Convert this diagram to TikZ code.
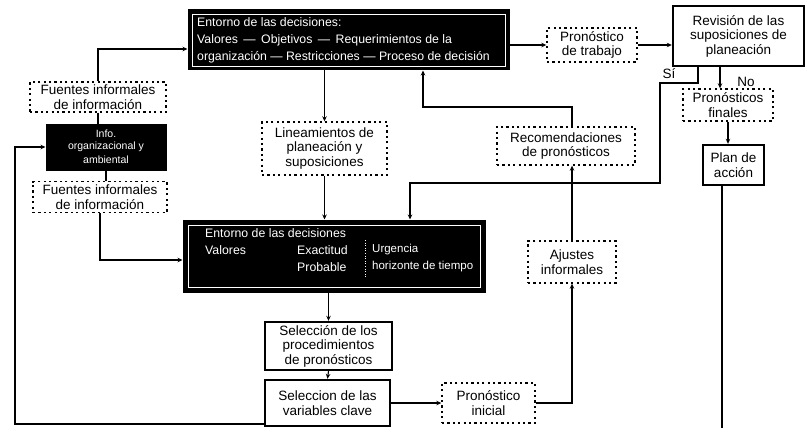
\documentclass[tikz,border=0pt]{standalone}
\usepackage{fontspec}
\setmainfont{Liberation Sans}
\usetikzlibrary{arrows.meta}
\begin{document}
\begin{tikzpicture}[x=1pt,y=-1pt,
  every node/.style={font=\fontsize{13.5}{14.5}\selectfont, align=center, inner sep=0pt},
  dbox/.style={draw, line width=1.4pt, dash pattern=on 2.2pt off 3.2pt},
  tbox/.style={draw, line width=2.4pt},
  bbox/.style={fill=black, draw=black, line width=1pt},
  wtxt/.style={text=white, font=\fontsize{12.3}{13}\selectfont, anchor=west},
  arr/.style={line width=1.1pt, -{Stealth[length=5pt,width=4.5pt]}},
  ln/.style={line width=1.1pt}]
\useasboundingbox (0,0) rectangle (806,428);
\fill[white] (0,0) rectangle (806,428);

% black boxes
\node[bbox, minimum width=321pt, minimum height=60pt] (T) at (348.5,40) {};
\draw[white, line width=0.6pt] (192,14) rectangle (505,66);
\node[wtxt] (t1) at (197,22) {Entorno de las decisiones:};
\node[wtxt] (t2) at (197,40) {Valores \,---\, Objetivos \,---\, Requerimientos de la};
\node[wtxt] (t3) at (197,57) {organización --- Restricciones --- Proceso de decisión};

\node[bbox, minimum width=120pt, minimum height=46pt] (L) at (106,147) {};
\node[text=white, font=\fontsize{10.5}{11}\selectfont] (l1) at (106,134) {Info.};
\node[text=white, font=\fontsize{10.5}{11}\selectfont] (l2) at (106,147) {organizacional y};
\node[text=white, font=\fontsize{10.5}{11}\selectfont] (l3) at (106,160) {ambiental};

\node[bbox, minimum width=302pt, minimum height=72pt] (B) at (334,256) {};
\draw[white, line width=0.6pt] (188,225) rectangle (480,287);
\node[wtxt] (b1) at (205,233) {Entorno de las decisiones};
\node[wtxt] (b2) at (205,250) {Valores};
\node[wtxt] (b3) at (297,250) {Exactitud};
\node[wtxt] (b4) at (297,267) {Probable};
\node[wtxt, font=\fontsize{11.5}{12}\selectfont] (b5) at (372,250) {Urgencia};
\node[wtxt, font=\fontsize{11.5}{12}\selectfont] (b6) at (372,267) {horizonte de tiempo};
\draw[white, line width=0.6pt, dotted] (365,240) -- (365,278);

% dashed boxes
\node[dbox, minimum width=136pt, minimum height=30pt] (F1) at (98,97) {Fuentes informales\\de información};
\node[dbox, minimum width=134pt, minimum height=31pt] (F2) at (100,197) {Fuentes informales\\de información};
\node[dbox, minimum width=125pt, minimum height=53pt] (Li) at (324.5,148.5) {Lineamientos de\\planeación y\\suposiciones};
\node[dbox, minimum width=138pt, minimum height=38pt] (R) at (566,146) {Recomendaciones\\de pronósticos};
\node[dbox, minimum width=88pt, minimum height=42pt] (A) at (572,262) {Ajustes\\informales};
\node[dbox, minimum width=93pt, minimum height=40pt] (PI) at (488.5,403) {Pronóstico\\inicial};
\node[dbox, minimum width=90pt, minimum height=34pt] (PT) at (592,45) {Pronóstico\\de trabajo};
\node[dbox, minimum width=90pt, minimum height=32pt] (PF) at (728,105) {Pronósticos\\finales};

% thick boxes
\node[tbox, minimum width=127pt, minimum height=48pt] (P) at (328.5,346) {Selección de los\\procedimientos\\de pronósticos};
\node[tbox, minimum width=125pt, minimum height=46pt] (V) at (327.5,403) {Seleccion de las\\variables clave};
\node[tbox, minimum width=131pt, minimum height=60pt] (Rv) at (738.5,36) {Revisión de las\\suposiciones de\\planeación};
\node[tbox, minimum width=61pt, minimum height=40pt] (PA) at (733.5,165) {Plan de\\acción};

% coordinates
\coordinate (c1) at (15,424);
\coordinate (c2) at (423,107);
\coordinate (si1) at (660,83);
\coordinate (si2) at (410,183);
\coordinate (nox) at (720,0);
\coordinate (six) at (698,0);
\coordinate (pend) at (722,428);

% connectors
\draw[arr] (F1.north) |- ([yshift=-9pt]T.west);
\draw[ln] (F1.south) -- (L.north -| F1.south);
\draw[ln] (L.south) -- (F2.north -| L.south);
\draw[arr] (F2.south) |- ([yshift=-4pt]B.west);
\draw[arr] ([yshift=-21pt]V.west) -- (c1) |- (L.west);
\draw[arr] (Li.north |- T.south) -- (Li.north);
\draw[arr] (Li.south) -- (Li.south |- B.north);
\draw[arr] (A.north |- R.north) |- (c2) -- (c2 |- T.south);
\draw[arr] (A.north) -- (A.north |- R.south);
\draw[arr] (PI.east) -| (A.south);
\draw[arr] (V.east) -- (PI.west);
\draw[arr] (P.north |- B.south) -- (P.north);
\draw[arr] (P.south) -- (V.north);
\draw[arr] (T.east |- PT.west) -- (PT.west);
\draw[arr] (PT.east) -- (PT.east -| Rv.west);
\draw[arr] (Rv.south -| six) |- (si1) |- (si2) -- (si2 |- B.north);
\node (si) at (669,74) {Sí};
\draw[arr] (Rv.south -| nox) -- (PF.north -| nox);
\node (no) at (746,82) {No};
\draw[arr] (PF.south) -- (PF.south |- PA.north);
\draw[ln] (PA.south -| pend) -- (pend);
\end{tikzpicture}
\end{document}
